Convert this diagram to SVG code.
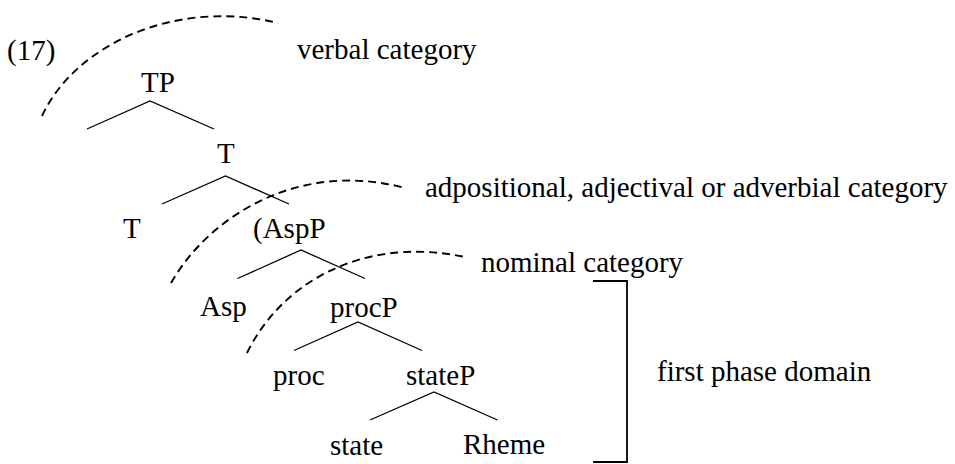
<svg xmlns="http://www.w3.org/2000/svg" width="955" height="464" viewBox="0 0 955 464">
<style>
text{font-family:"Liberation Serif","Times New Roman",serif;font-size:29px;fill:#000}
.br{fill:none;stroke:#000;stroke-width:1.3}
.arc{fill:none;stroke:#000;stroke-width:1.9;stroke-dasharray:8,5}
.bk{fill:none;stroke:#000;stroke-width:1.8}
</style>
<rect width="955" height="464" fill="#fff"/>
<text x="7" y="60">(17)</text>
<g id="connectors">
<path class="br" d="M87,129 L150,101 L214,129"/>
<path class="br" d="M162,204 L225.5,176 L289,204"/>
<path class="br" d="M237.5,278.5 L301,250 L365,278.5"/>
<path class="br" d="M294,350.5 L358,322 L422,350.5"/>
<path class="br" d="M370,420 L434,392 L497.5,420"/>
</g>
<g id="arcs">
<path class="arc" d="M42,116 C75,45 175,-2 278,23"/>
<path class="arc" d="M171,283 C210,215 300,160 405,188"/>
<path class="arc" d="M247,353 C280,285 360,235 465,257"/>
</g>
<g id="labels">
<text x="297" y="59">verbal category</text>
<text x="425" y="197">adpositional, adjectival or adverbial category</text>
<text x="481" y="272">nominal category</text>
<text x="657" y="381">first phase domain</text>
</g>
<g id="n-TP"><text x="141" y="92">TP</text></g>
<g id="n-Tbar"><text x="217" y="163">T</text></g>
<g id="n-T"><text x="123" y="238">T</text></g>
<g id="n-AspP"><text x="253" y="238">(AspP</text></g>
<g id="n-Asp"><text x="200" y="316">Asp</text></g>
<g id="n-procP"><text x="330" y="317">procP</text></g>
<g id="n-proc"><text x="273" y="385">proc</text></g>
<g id="n-stateP"><text x="406" y="385">stateP</text></g>
<g id="n-state"><text x="330" y="455">state</text></g>
<g id="n-Rheme"><text x="463" y="454">Rheme</text></g>
<g id="bracket"><path class="bk" d="M593,281 H627 V462 H593"/></g>
</svg>
